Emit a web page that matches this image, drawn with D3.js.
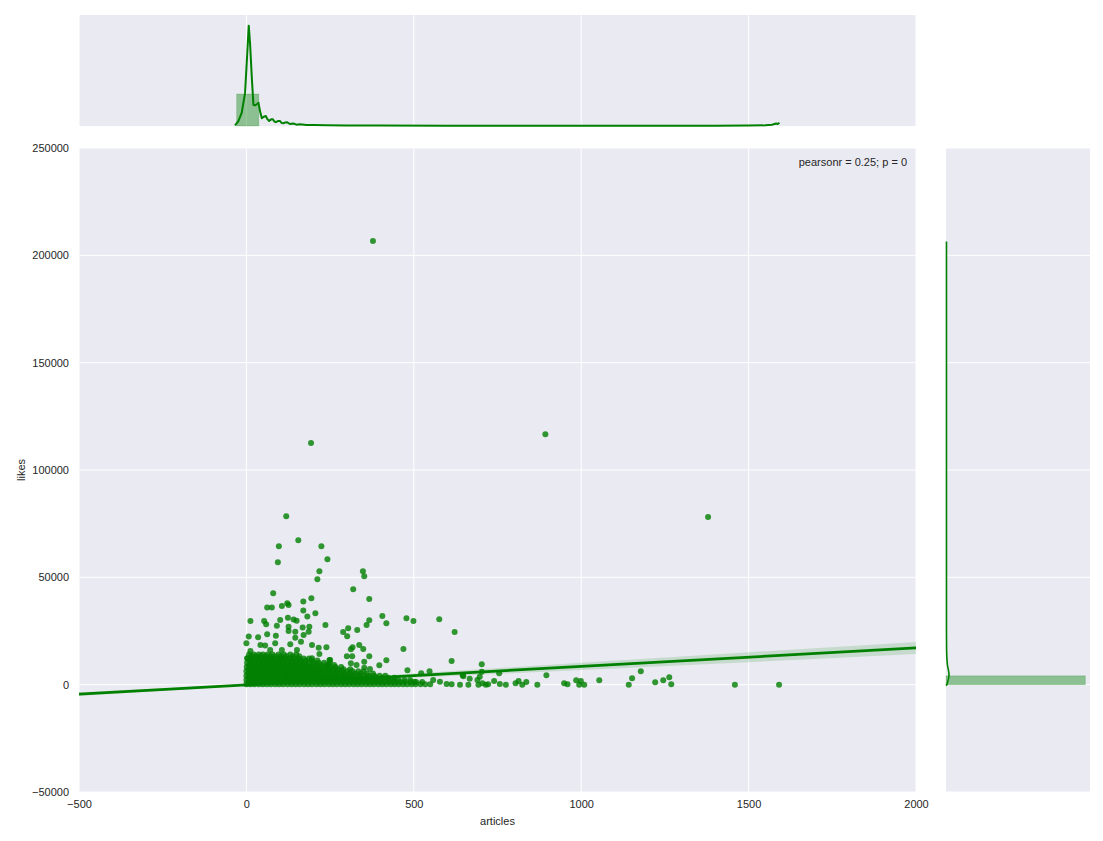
<!DOCTYPE html>
<html>
<head>
<meta charset="utf-8">
<script src="https://cdnjs.cloudflare.com/ajax/libs/d3/7.8.5/d3.min.js"></script>
<style>
  body { margin: 0; background: #fff; }
  text { font-family: "Liberation Sans", Arial, sans-serif; fill: #262626; }
</style>
</head>
<body>
<svg width="1103" height="841"></svg>
<script>
// ticks
var xTicks = [-500, 0, 500, 1000, 1500, 2000];
var yTicks = [-50000, 0, 50000, 100000, 150000, 200000, 250000];

// isolated points [articles, likes]
var sparsePoints = [
  [378, 206700], [193, 112600], [893, 116700], [1379, 78100],
  [119, 78400], [155, 67300], [97, 64500], [224, 64500], [242, 58400], [94, 57000],
  [218, 52800], [348, 52800], [352, 50500], [212, 49100], [319, 44400], [80, 42600],
  [194, 40200], [367, 39900], [170, 38700], [122, 37900], [62, 36000], [76, 36000],
  [106, 36700], [126, 37100], [170, 34500], [182, 31700], [206, 33300],
  [406, 32000], [478, 30900], [499, 29700], [576, 30500], [367, 30000], [418, 28600],
  [359, 27800], [289, 24500], [304, 26300], [301, 22500], [331, 25500], [622, 24500],
  [12, 29700], [53, 29700], [59, 28100], [101, 30100], [124, 31200], [141, 30300],
  [150, 29800], [91, 27500], [126, 27000], [168, 26600], [188, 27000], [236, 27800],
  [7, 22400], [35, 22100], [62, 23500], [88, 22800], [126, 25000], [146, 24700],
  [146, 21900], [171, 23100], [186, 24700], [0, 19300], [42, 18500], [56, 18200],
  [86, 19300], [131, 18800], [163, 20000], [196, 18500], [216, 17200], [239, 17400],
  [12, 15700], [71, 16200], [106, 16200], [151, 16200], [218, 14300], [196, 12300],
  [248, 11500], [2, 12300], [246, 9200],
  [337, 18500], [349, 16600], [317, 17400], [312, 16500], [469, 16600], [300, 13200],
  [316, 13200], [367, 13200], [352, 10700], [418, 11400], [397, 9000], [613, 11000],
  [312, 10000], [329, 9200], [352, 7900], [369, 7300], [250, 11500], [481, 6700],
  [547, 6200], [646, 4400], [703, 9500], [896, 4400], [1178, 6200], [1152, 3000],
  [1142, 0], [1054, 2000], [985, 2000], [999, 1700], [994, 0], [1009, 0], [949, 650],
  [959, 200], [1221, 1100], [1245, 2000], [1263, 3400], [1269, 200], [869, 0],
  [836, 1300], [813, 1700], [804, 650], [824, 0], [775, 0], [757, 300], [740, 1700],
  [755, 5300], [703, 6000], [648, 3900], [667, 2800], [690, 2200], [697, 3700],
  [705, 650], [722, 200], [715, 0], [693, 0], [663, 0], [638, 0], [613, 200],
  [598, 300], [578, 1400], [558, 2200], [522, 5300], [502, 1400], [1459, 0], [1591, 0]
];

// the saturated blob near the origin, row by row (likes level, articles values)
var clusterLikes = [200, 1200, 2200, 3200, 4200, 5200, 6200, 7200, 8200, 9200, 10200, 11200, 12200, 13200, 14100];
var clusterArticles = [
  [0, 12, 24, 37, 49, 61, 73, 86, 98, 110, 123, 135, 147, 159, 172, 184, 196, 209, 221, 233, 246, 258, 270, 283, 295, 307, 320, 332, 344, 357, 369, 381, 394, 406, 418, 431, 443, 455, 468, 480, 493, 505, 520, 534, 549],
  [6, 18, 30, 43, 55, 67, 80, 92, 104, 117, 129, 141, 154, 166, 178, 191, 203, 215, 228, 240, 252, 265, 277, 289, 302, 314, 326, 339, 351, 364, 376, 388, 401, 414, 428, 442, 457, 473, 490, 507, 525],
  [0, 12, 25, 37, 50, 62, 74, 87, 99, 112, 124, 136, 149, 161, 174, 186, 198, 211, 223, 236, 248, 260, 273, 285, 298, 310, 322, 335, 347, 360, 372, 385, 399, 412, 426, 441, 455, 472, 489],
  [6, 18, 31, 43, 55, 68, 80, 92, 105, 117, 129, 142, 154, 166, 179, 191, 203, 216, 228, 240, 253, 265, 277, 290, 302, 315, 329, 343, 358, 373, 389, 406, 423, 442],
  [0, 12, 25, 37, 49, 62, 74, 86, 99, 111, 123, 136, 148, 160, 173, 185, 197, 210, 222, 234, 247, 259, 271, 284, 296, 309, 323, 337, 351, 366, 382, 398, 415],
  [6, 18, 30, 42, 55, 67, 79, 91, 104, 116, 128, 140, 153, 165, 177, 189, 202, 214, 226, 239, 251, 265, 279, 293, 308, 324, 341, 360, 378],
  [0, 12, 24, 36, 49, 61, 73, 85, 98, 110, 122, 134, 147, 159, 171, 183, 196, 208, 220, 233, 245, 258, 272, 286, 301, 317, 334, 350],
  [7, 19, 31, 43, 55, 68, 80, 92, 104, 116, 129, 141, 153, 165, 178, 190, 202, 215, 228, 242, 257, 273, 290, 310],
  [1, 13, 25, 37, 49, 62, 74, 86, 98, 110, 123, 135, 147, 159, 172, 184, 196, 209, 222, 236, 250, 266, 283],
  [8, 20, 32, 44, 56, 68, 81, 93, 105, 117, 130, 142, 154, 167, 180, 194, 208, 223, 240, 262],
  [2, 14, 26, 38, 50, 62, 75, 87, 99, 111, 124, 136, 148, 161, 174, 187, 201, 216, 232, 249],
  [10, 22, 35, 47, 60, 72, 84, 97, 109, 122, 135, 148, 163, 178, 196, 212],
  [4, 17, 29, 41, 54, 66, 78, 91, 103, 116, 129, 142, 156, 171, 187],
  [14, 28, 43, 57, 71, 86, 103, 120, 139, 158],
  [8, 22, 37, 49, 63, 78, 96, 112, 131, 149]
];

// regression fit and its confidence band
var fitSlope = 8.6, fitIntercept = -100;
var ciArticles = [-500, 0, 500, 1000, 1500, 2000];
var ciHalfWidth = [900, 300, 1000, 1700, 2300, 2800];

// top marginal (articles): histogram bin and kde
var topBinEdges = [-29, 37];
var topBinDensity = 0.0144;
var topKdeArticles = [-34, -24, -14, -4, 3, 7, 11, 16, 21, 26, 31, 36, 41, 46, 52, 58, 63, 68, 74, 79, 84, 88, 94, 100, 105, 110, 116, 122, 130, 140, 150, 160, 180, 200, 240, 300, 400, 600, 800, 1000, 1200, 1400, 1500, 1550, 1570, 1582, 1587, 1592];
var topKdeDensity = [0.0003, 0.0022, 0.0059, 0.0149, 0.034, 0.0452, 0.037, 0.0222, 0.0095, 0.0093, 0.0098, 0.0105, 0.0065, 0.0035, 0.0042, 0.0045, 0.003, 0.0023, 0.003, 0.003, 0.002, 0.0017, 0.0022, 0.0023, 0.0014, 0.0012, 0.0016, 0.0017, 0.0009, 0.0011, 0.0006, 0.0008, 0.0004, 0.0005, 0.0003, 0.0002, 0.0002, 0.0001, 0.0001, 0.0001, 0.0001, 0.0001, 0.0002, 0.0003, 0.0006, 0.0011, 0.0009, 0.0015];

// right marginal (likes): histogram bin and kde
var rightBinEdges = [0, 4100];
var rightBinDensity = 0.000237;
var rightKdeLikes = [-400, 0, 1500, 3000, 5000, 7000, 9000, 12000, 16000, 25000, 40000, 80000, 120000, 160000, 206500];
var rightKdeDensity = [0, 0.0000017, 0.000003, 0.0000045, 0.0000052, 0.000004, 0.0000025, 0.0000015, 0.000001, 0.0000008, 0.0000008, 0.0000008, 0.0000008, 0.0000008, 0.0000008];

var svg = d3.select("svg");

var x = d3.scaleLinear().domain([-500, 2000]).range([79, 916]),
    y = d3.scaleLinear().domain([-50000, 250000]).range([792, 148]),
    yTop = d3.scaleLinear().domain([0, 0.05]).range([126, 15]),
    xRight = d3.scaleLinear().domain([0, 0.000245]).range([946, 1090]);

var bg = "#EAEAF2";

// ---- main axes
svg.append("clipPath").attr("id", "clipMain")
  .append("rect").attr("x", 79).attr("y", 148).attr("width", 837).attr("height", 644);

svg.append("rect").attr("x", 79).attr("y", 148).attr("width", 837).attr("height", 644).attr("fill", bg);

var main = svg.append("g").attr("clip-path", "url(#clipMain)");

main.selectAll(".vgrid").data(xTicks).enter().append("line")
  .attr("x1", function(d) { return x(d); }).attr("x2", function(d) { return x(d); })
  .attr("y1", 148).attr("y2", 792)
  .attr("stroke", "#fff").attr("stroke-width", 1);

main.selectAll(".hgrid").data(yTicks).enter().append("line")
  .attr("y1", function(d) { return y(d); }).attr("y2", function(d) { return y(d); })
  .attr("x1", 79).attr("x2", 916)
  .attr("stroke", "#fff").attr("stroke-width", 1);

var points = sparsePoints.slice();
clusterLikes.forEach(function(l, i) {
  clusterArticles[i].forEach(function(a) { points.push([a, l]); });
});

main.selectAll(".dot").data(points).enter().append("circle")
  .attr("cx", function(d) { return x(d[0]); })
  .attr("cy", function(d) { return y(d[1]); })
  .attr("r", 3)
  .attr("fill", "green")
  .attr("fill-opacity", 0.8);

var ciData = ciArticles.map(function(a, i) {
  var m = fitIntercept + fitSlope * a;
  return {a: a, lo: m - ciHalfWidth[i], hi: m + ciHalfWidth[i]};
});

main.append("path")
  .datum(ciData)
  .attr("d", d3.area()
    .x(function(d) { return x(d.a); })
    .y0(function(d) { return y(d.lo); })
    .y1(function(d) { return y(d.hi); }))
  .attr("fill", "green")
  .attr("fill-opacity", 0.15);

main.append("path")
  .datum(x.domain())
  .attr("d", d3.line()
    .x(function(d) { return x(d); })
    .y(function(d) { return y(fitIntercept + fitSlope * d); }))
  .attr("fill", "none")
  .attr("stroke", "green")
  .attr("stroke-width", 2.8);

var xAxis = svg.append("g")
  .attr("transform", "translate(0,792)")
  .call(d3.axisBottom(x).tickValues(xTicks).tickSize(0).tickPadding(8).tickFormat(d3.format("d")));
xAxis.select(".domain").remove();
xAxis.selectAll("text").attr("font-size", 11).attr("fill", "#262626");

var yAxis = svg.append("g")
  .attr("transform", "translate(79,0)")
  .call(d3.axisLeft(y).tickValues(yTicks).tickSize(0).tickPadding(10).tickFormat(d3.format("d")));
yAxis.select(".domain").remove();
yAxis.selectAll("text").attr("font-size", 11).attr("fill", "#262626");

svg.append("text")
  .attr("x", 497.5).attr("y", 825)
  .attr("text-anchor", "middle").attr("font-size", 11)
  .text("articles");

svg.append("text")
  .attr("transform", "translate(25,470) rotate(-90)")
  .attr("text-anchor", "middle").attr("font-size", 11)
  .text("likes");

svg.append("text")
  .attr("x", 907).attr("y", 166)
  .attr("text-anchor", "end").attr("font-size", 11)
  .text("pearsonr = 0.25; p = 0");

// ---- top marginal
svg.append("rect").attr("x", 79).attr("y", 15).attr("width", 837).attr("height", 111).attr("fill", bg);

svg.selectAll(".topgrid").data(xTicks).enter().append("line")
  .attr("x1", function(d) { return x(d); }).attr("x2", function(d) { return x(d); })
  .attr("y1", 15).attr("y2", 126)
  .attr("stroke", "#fff").attr("stroke-width", 1);

svg.append("rect")
  .attr("x", x(topBinEdges[0]))
  .attr("width", x(topBinEdges[1]) - x(topBinEdges[0]))
  .attr("y", yTop(topBinDensity))
  .attr("height", yTop(0) - yTop(topBinDensity))
  .attr("fill", "green").attr("fill-opacity", 0.4)
  .attr("stroke", "green").attr("stroke-opacity", 0.25).attr("stroke-width", 0.8);

svg.append("path")
  .datum(topKdeArticles.map(function(a, i) { return [a, topKdeDensity[i]]; }))
  .attr("d", d3.line()
    .x(function(d) { return x(d[0]); })
    .y(function(d) { return yTop(d[1]); }))
  .attr("fill", "none")
  .attr("stroke", "green")
  .attr("stroke-width", 2)
  .attr("stroke-linejoin", "round");

// ---- right marginal
svg.append("rect").attr("x", 946).attr("y", 148).attr("width", 144).attr("height", 644).attr("fill", bg);

svg.selectAll(".rightgrid").data(yTicks).enter().append("line")
  .attr("y1", function(d) { return y(d); }).attr("y2", function(d) { return y(d); })
  .attr("x1", 946).attr("x2", 1090)
  .attr("stroke", "#fff").attr("stroke-width", 1);

svg.append("rect")
  .attr("x", xRight(0))
  .attr("width", xRight(rightBinDensity) - xRight(0))
  .attr("y", y(rightBinEdges[1]))
  .attr("height", y(rightBinEdges[0]) - y(rightBinEdges[1]))
  .attr("fill", "green").attr("fill-opacity", 0.4)
  .attr("stroke", "green").attr("stroke-opacity", 0.25).attr("stroke-width", 0.8);

svg.append("path")
  .datum(rightKdeLikes.map(function(l, i) { return [l, rightKdeDensity[i]]; }))
  .attr("d", d3.line()
    .x(function(d) { return xRight(d[1]); })
    .y(function(d) { return y(d[0]); }))
  .attr("fill", "none")
  .attr("stroke", "green")
  .attr("stroke-width", 1.6);
</script>
</body>
</html>
